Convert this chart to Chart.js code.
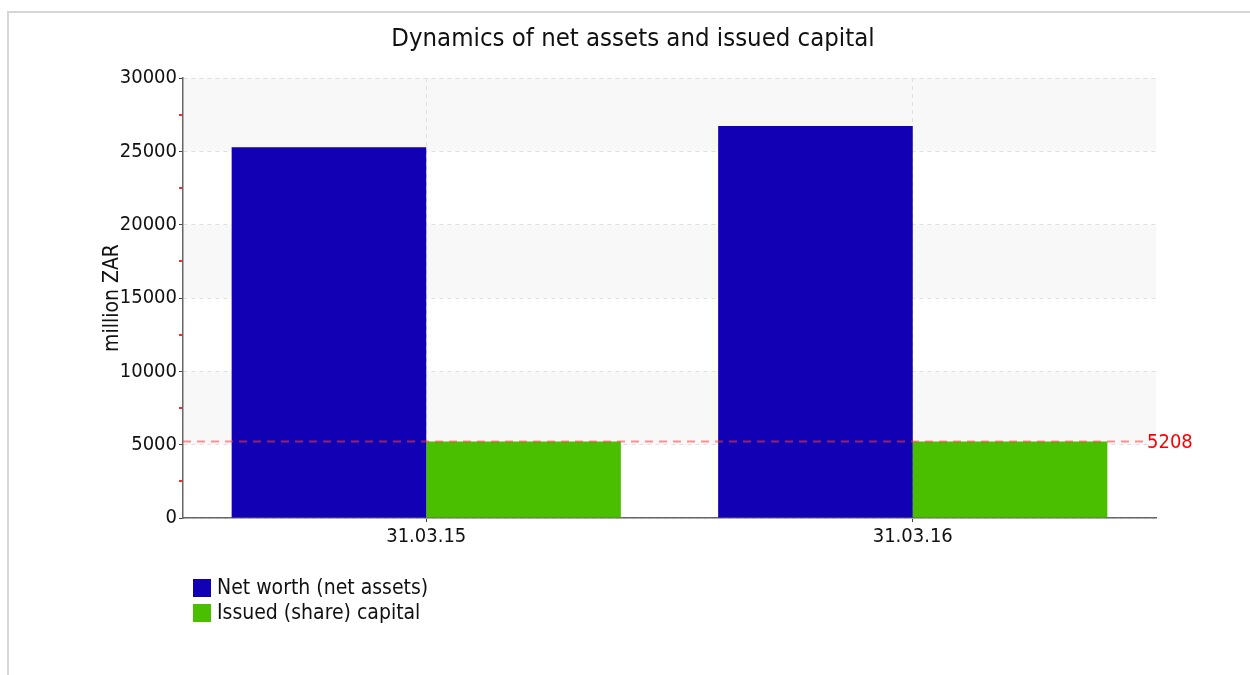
<!DOCTYPE html>
<html>
<head>
<meta charset="utf-8">
<script src="https://cdn.jsdelivr.net/npm/chart.js@4.4.0/dist/chart.umd.min.js"></script>
<style>
  body { margin: 0; background: #fff; }
  #wrap { position: relative; width: 1250px; height: 675px; overflow: hidden; }
  #frame { position: absolute; left: 7px; top: 11px; width: 1300px; height: 700px;
           border-top: 2px solid #d6d6d6; border-left: 2px solid #d6d6d6; }
  canvas { position: absolute; left: 0; top: 0; }
  #title { position: absolute; left: 333px; width: 600px; top: 22px; text-align: center;
           font: 25.5px 'DejaVu Sans Condensed', 'Liberation Sans', sans-serif; color: #111; line-height: 30px; }
  .leg { position: absolute; left: 193px; font: 21px 'DejaVu Sans Condensed', 'Liberation Sans', sans-serif; color: #111; line-height: 24px; }
  .leg span { display: inline-block; width: 18px; height: 18px; vertical-align: -3px; margin-right: 6px; }
</style>
</head>
<body>
<div id="wrap">
  <div id="frame"></div>
  <canvas id="c" width="1250" height="675"></canvas>
  <div id="title">Dynamics of net assets and issued capital</div>
  <div class="leg" id="leg1" style="top:575px"><span style="background:#1100b4"></span>Net worth (net assets)</div>
  <div class="leg" id="leg2" style="top:600px"><span style="background:#49bf00"></span>Issued (share) capital</div>
</div>
<script>
// chart data
const categories = ["31.03.15", "31.03.16"];
const netWorth = [25280, 26720];
const issuedCapital = [5208, 5208];
const refValue = 5208;
const yMax = 30000;
const yStep = 5000;

const FONT = "'DejaVu Sans Condensed', 'Liberation Sans', sans-serif";

// alternating grey bands behind the grid
const bandsPlugin = {
  id: "bands",
  beforeDraw(chart) {
    const { ctx, chartArea: a, scales: { y } } = chart;
    ctx.save();
    ctx.fillStyle = "#f8f8f8";
    for (let v = yMax; v > 0; v -= 2 * yStep) {
      const top = y.getPixelForValue(v);
      const bot = y.getPixelForValue(v - yStep);
      ctx.fillRect(a.left, top, a.right - a.left, bot - top);
    }
    ctx.restore();
  }
};

// small red minor ticks between the major ones
const minorTicks = {
  id: "minorTicks",
  afterDraw(chart) {
    const { ctx, chartArea: a, scales: { y } } = chart;
    ctx.save();
    ctx.fillStyle = "#ff2a2a";
    for (let v = yStep / 2; v < yMax; v += yStep) {
      const py = Math.round(y.getPixelForValue(v));
      ctx.fillRect(a.left - 4, py - 1, 3, 2);
    }
    ctx.restore();
  }
};

// dashed red marker line with its value
const refLine = {
  id: "refLine",
  afterDatasetsDraw(chart) {
    const { ctx, chartArea: a, scales: { y } } = chart;
    const py = y.getPixelForValue(refValue);
    ctx.save();
    ctx.strokeStyle = "rgba(255,60,60,0.55)";
    ctx.lineWidth = 2;
    ctx.setLineDash([8, 6]);
    ctx.beginPath();
    ctx.moveTo(a.left, py);
    ctx.lineTo(a.right - 12, py);
    ctx.stroke();
    ctx.setLineDash([]);
    ctx.fillStyle = "#ff0000";
    ctx.font = "20px " + FONT;
    ctx.textBaseline = "middle";
    ctx.textAlign = "left";
    ctx.fillText(String(refValue), a.right - 9, py + 1);
    ctx.restore();
  }
};

new Chart(document.getElementById("c"), {
  type: "bar",
  data: {
    labels: categories,
    datasets: [
      { label: "Net worth (net assets)", data: netWorth, backgroundColor: "#1100b4", borderWidth: 0 },
      { label: "Issued (share) capital", data: issuedCapital, backgroundColor: "#49bf00", borderWidth: 0 }
    ]
  },
  options: {
    responsive: false,
    animation: false,
    categoryPercentage: 0.8,
    barPercentage: 1.0,
    layout: { padding: { left: 95, right: 94, top: 78, bottom: 127 } },
    plugins: {
      legend: { display: false },
      tooltip: { enabled: false },
      title: { display: false }
    },
    scales: {
      x: {
        afterFit(s) { s.height = 30; },
        grid: {
          offset: false,
          color: "#e0e0e0",
          tickColor: "#444",
          tickBorderDash: [],
          tickLength: 4
        },
        border: { color: "#666", width: 1.5, dash: [4, 4] },
        ticks: { color: "#111", padding: 3, font: { family: FONT, size: 20 } }
      },
      y: {
        min: 0,
        max: yMax,
        afterFit(s) { s.width = 88; },
        grid: {
          color: "#e0e0e0",
          tickColor: "#444",
          tickBorderDash: [],
          tickLength: 4
        },
        border: { color: "#666", width: 1.5, dash: [4, 4] },
        ticks: {
          stepSize: yStep,
          color: "#111",
          padding: 2,
          font: { family: FONT, size: 20 },
          callback: v => String(v)
        },
        title: {
          display: true,
          text: "million ZAR",
          color: "#111",
          font: { family: FONT, size: 21 },
          padding: { top: 5, bottom: 0 }
        }
      }
    }
  },
  plugins: [bandsPlugin, minorTicks, refLine]
});
</script>
</body>
</html>
